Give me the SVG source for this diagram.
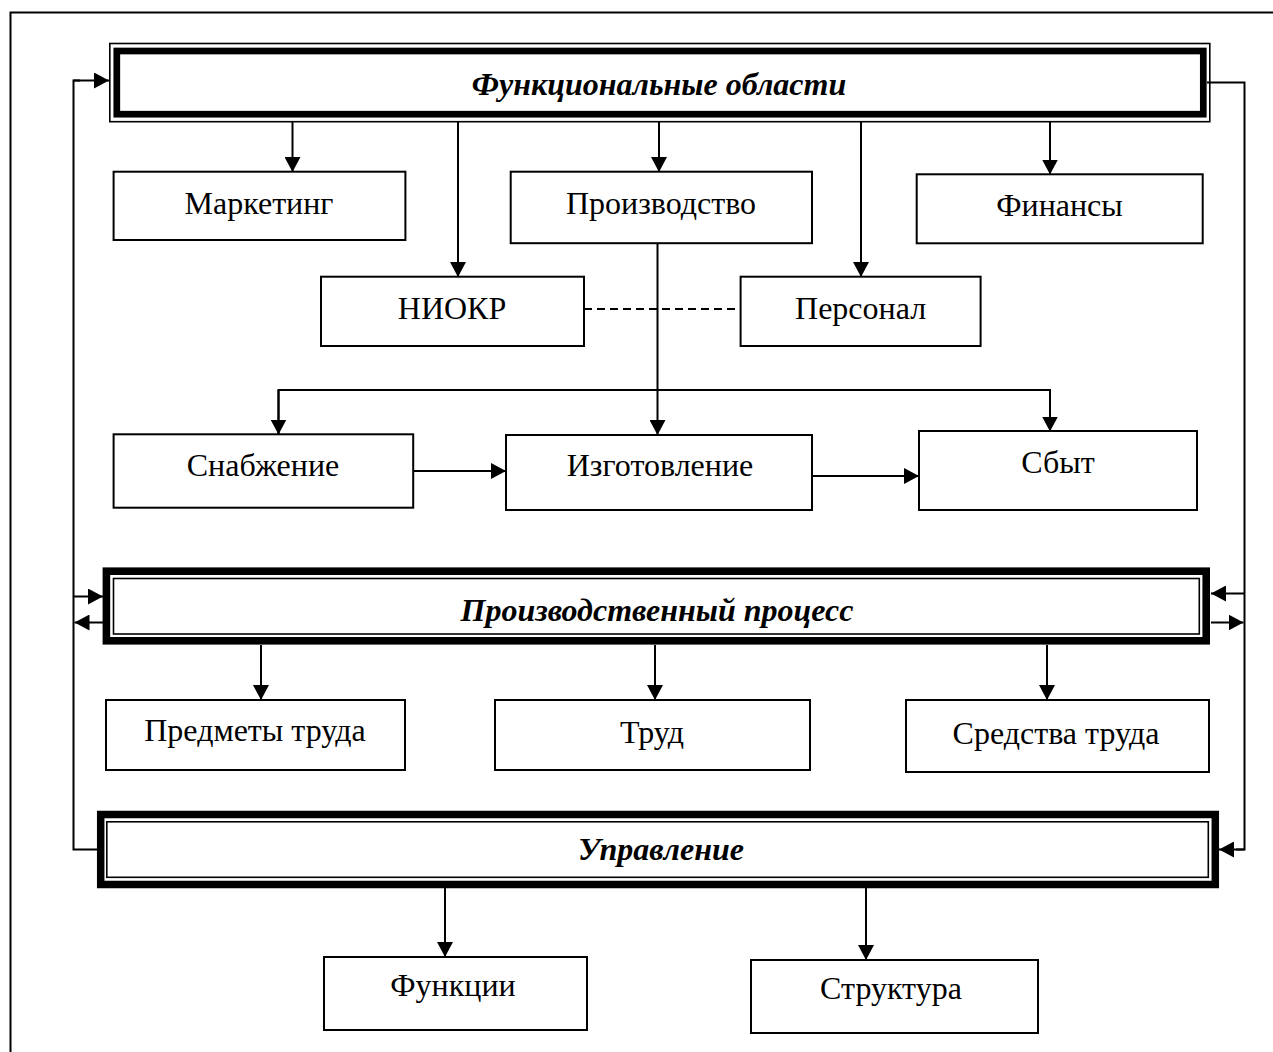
<svg xmlns="http://www.w3.org/2000/svg" width="1273" height="1052" viewBox="0 0 1273 1052">
  <defs>
    <marker id="arrow" viewBox="0 0 15 16" refX="15" refY="8" markerWidth="15" markerHeight="16" markerUnits="userSpaceOnUse" orient="auto">
      <path d="M0,0 L15,8 L0,16 z" fill="#000"/>
    </marker>
  </defs>
  <style>
    .box { fill: #fff; stroke: #000; stroke-width: 2; }
    .thin { fill: none; stroke: #000; stroke-width: 1.6; }
    .thick { fill: none; stroke: #000; }
    .lbl { font-family: "Liberation Serif", "Times New Roman", serif; font-size: 32px; fill: #000; text-anchor: middle; }
    .head { font-family: "Liberation Serif", "Times New Roman", serif; font-size: 32px; font-weight: bold; font-style: italic; fill: #000; text-anchor: middle; }
    .ln { fill: none; stroke: #000; stroke-width: 2; }
    .arr { fill: none; stroke: #000; stroke-width: 2; marker-end: url(#arrow); }
    .dash { fill: none; stroke: #000; stroke-width: 2; stroke-dasharray: 8 5; }
  </style>

  <rect x="0" y="0" width="1273" height="1052" fill="#fff"/>
  <!-- page frame -->
  <rect x="10.5" y="12.5" width="1300" height="1100" fill="none" stroke="#000" stroke-width="2"/>

  <!-- connectors -->
  <g id="connectors">
    <!-- left feedback rail -->
    <polyline class="ln" points="97,849.5 73.5,849.5 73.5,80.5 80,80.5"/>
    <line class="arr" x1="73.5" y1="80.5" x2="109" y2="80.5"/>
    <line class="arr" x1="73.5" y1="596.5" x2="103" y2="596.5"/>
    <line class="arr" x1="103" y1="622.5" x2="74.5" y2="622.5"/>
    <!-- right feedback rail -->
    <polyline class="ln" points="1207,82.5 1244.5,82.5 1244.5,849.5 1236,849.5"/>
    <line class="arr" x1="1244.5" y1="849.5" x2="1219" y2="849.5"/>
    <line class="arr" x1="1244.5" y1="593.5" x2="1211" y2="593.5"/>
    <line class="arr" x1="1211" y1="622.5" x2="1243.5" y2="622.5"/>
    <!-- functional areas -->
    <line class="arr" x1="292.5" y1="122" x2="292.5" y2="172"/>
    <line class="arr" x1="458" y1="122" x2="458" y2="277"/>
    <line class="arr" x1="659" y1="122" x2="659" y2="172"/>
    <line class="arr" x1="861" y1="122" x2="861" y2="277"/>
    <line class="arr" x1="1050" y1="122" x2="1050" y2="174.5"/>
    <line class="dash" x1="584" y1="309" x2="741" y2="309"/>
    <!-- production chain -->
    <line class="arr" x1="657.5" y1="243" x2="657.5" y2="435"/>
    <polyline class="ln" points="278.5,434 278.5,390 1050,390 1050,431"/>
    <line class="arr" x1="278.5" y1="390" x2="278.5" y2="434.5"/>
    <line class="arr" x1="1050" y1="390" x2="1050" y2="431.5"/>
    <line class="arr" x1="413" y1="471" x2="506" y2="471"/>
    <line class="arr" x1="812" y1="476" x2="919" y2="476"/>
    <!-- production process -->
    <line class="arr" x1="261" y1="645" x2="261" y2="700"/>
    <line class="arr" x1="655" y1="645" x2="655" y2="700"/>
    <line class="arr" x1="1047" y1="645" x2="1047" y2="700"/>
    <!-- management -->
    <line class="arr" x1="445" y1="888" x2="445" y2="957"/>
    <line class="arr" x1="866" y1="888" x2="866" y2="960"/>
  </g>

  <!-- header blocks -->
  <g id="functional-areas">
    <rect class="thin" x="109.8" y="43.5" width="1100" height="78.2"/>
    <rect class="thick" x="116.8" y="51" width="1086.5" height="63.2" stroke-width="6.7"/>
    <text class="head" x="659" y="95">Функциональные области</text>
  </g>
  <g id="production-process">
    <rect class="thick" x="106.4" y="571.2" width="1099.8" height="69.6" stroke-width="7.6"/>
    <rect class="thin" x="113.5" y="578.5" width="1085.8" height="55.5"/>
    <text class="head" x="657" y="621">Производственный процесс</text>
  </g>
  <g id="management">
    <rect class="thick" x="100.7" y="814.5" width="1114.6" height="70" stroke-width="7.5"/>
    <rect class="thin" x="106.8" y="821.8" width="1101.5" height="55.5"/>
    <text class="head" x="661" y="860">Управление</text>
  </g>

  <!-- functional area nodes -->
  <g id="marketing">
    <rect class="box" x="113.6" y="171.7" width="291.8" height="68.3"/>
    <text class="lbl" x="259" y="214">Маркетинг</text>
  </g>
  <g id="production">
    <rect class="box" x="510.7" y="171.7" width="301.3" height="71.5"/>
    <text class="lbl" x="661" y="213.5">Производство</text>
  </g>
  <g id="finance">
    <rect class="box" x="916.7" y="174.3" width="286" height="69"/>
    <text class="lbl" x="1059.5" y="215.5">Финансы</text>
  </g>
  <g id="rnd">
    <rect class="box" x="321" y="276.7" width="263" height="69.3"/>
    <text class="lbl" x="452" y="319">НИОКР</text>
  </g>
  <g id="personnel">
    <rect class="box" x="740.6" y="276.7" width="240" height="69.3"/>
    <text class="lbl" x="860.6" y="319">Персонал</text>
  </g>

  <!-- production chain nodes -->
  <g id="supply">
    <rect class="box" x="113.6" y="434.3" width="299.6" height="73.4"/>
    <text class="lbl" x="263" y="476">Снабжение</text>
  </g>
  <g id="manufacturing">
    <rect class="box" x="506" y="435" width="306" height="75"/>
    <text class="lbl" x="660" y="476">Изготовление</text>
  </g>
  <g id="sales">
    <rect class="box" x="919" y="431" width="278" height="79"/>
    <text class="lbl" x="1058" y="473">Сбыт</text>
  </g>

  <!-- production process nodes -->
  <g id="objects-of-labour">
    <rect class="box" x="106" y="700" width="299" height="70"/>
    <text class="lbl" x="255" y="741">Предметы труда</text>
  </g>
  <g id="labour">
    <rect class="box" x="495" y="700" width="315" height="70"/>
    <text class="lbl" x="652" y="743">Труд</text>
  </g>
  <g id="means-of-labour">
    <rect class="box" x="906" y="700" width="303" height="72"/>
    <text class="lbl" x="1056" y="744">Средства труда</text>
  </g>

  <!-- management nodes -->
  <g id="functions">
    <rect class="box" x="324" y="957" width="263" height="73"/>
    <text class="lbl" x="453" y="996">Функции</text>
  </g>
  <g id="structure">
    <rect class="box" x="751" y="960" width="287" height="73"/>
    <text class="lbl" x="891" y="999">Структура</text>
  </g>
</svg>
